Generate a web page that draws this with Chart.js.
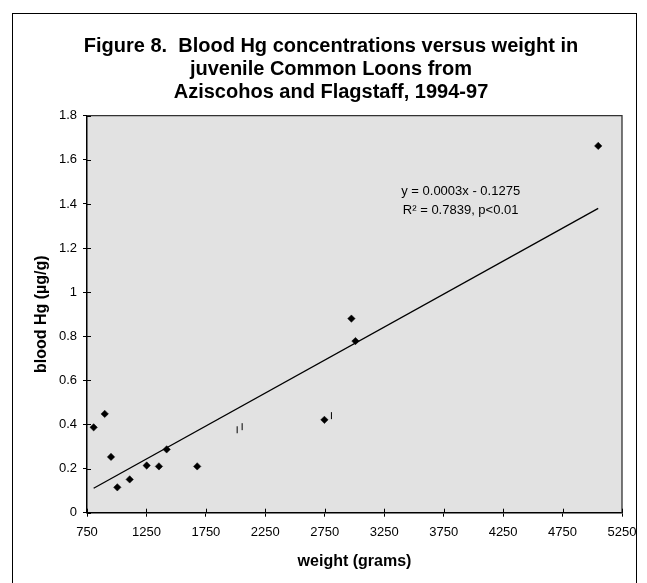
<!DOCTYPE html>
<html>
<head>
<meta charset="utf-8">
<script src="https://cdn.jsdelivr.net/npm/chart.js@4.4.1/dist/chart.umd.min.js"></script>
<style>
    html, body { margin: 0; padding: 0; background: #fff; overflow: hidden; }
    #frame { position: absolute; left: 12px; top: 13px; width: 625px; height: 620px; border: 1px solid #000; box-sizing: border-box; }
    #wrap { position: absolute; left: 0; top: 0; width: 647px; height: 583px; }
</style>
</head>
<body>
<div id="frame"></div>
<div id="wrap"><canvas id="chart"></canvas></div>
<script>
// ============================================================
// Figure 8 — Blood Hg vs weight, juvenile Common Loons
// ============================================================

// Points
const weights = [806, 899, 952, 1005, 1109, 1252, 1355, 1420, 1677, 2747, 2974, 3008, 5050];
const bloodHg = [0.387, 0.448, 0.253, 0.115, 0.151, 0.214, 0.210, 0.287, 0.210, 0.421, 0.880, 0.778, 1.663];

// Droite de tendance (extrémités)
const trendX = [806, 5050];
const trendY = [0.111, 1.38];

// Petits traits verticaux parasites du graphique d'origine
const markX = [2013, 2055, 2806];
const markY = [0.376, 0.390, 0.440];

// Axes
const xMin = 750, xMax = 5250, xStep = 500;
const yMin = 0, yMax = 1.8, yStep = 0.2;

const titleLines = [
    'Figure 8.  Blood Hg concentrations versus weight in',
    'juvenile Common Loons from',
    'Aziscohos and Flagstaff, 1994-97'
];
const equationLines = ['y = 0.0003x - 0.1275', 'R\u00B2 = 0.7839, p<0.01'];

const FONT = "'Liberation Sans', Arial, Helvetica, sans-serif";

function toPoints(xs, ys) {
    return xs.map(function (x, i) { return { x: x, y: ys[i] }; });
}

// Fond gris + cadre haut/droite + graduations qui traversent l'axe
const plotFrame = {
    id: 'plotFrame',
    afterLayout: function (chart) {
        // recentrer le titre comme sur l'original
        chart.titleBlock.left += 20;
        chart.titleBlock.right += 20;
    },
    beforeDraw: function (chart) {
        const a = chart.chartArea, ctx = chart.ctx;
        ctx.save();
        ctx.fillStyle = '#e2e2e2';
        ctx.fillRect(a.left, a.top, a.right - a.left, a.bottom - a.top);
        ctx.restore();
    },
    afterDraw: function (chart) {
        const a = chart.chartArea, ctx = chart.ctx;
        const xs = chart.scales.x, ys = chart.scales.y;
        ctx.save();
        ctx.strokeStyle = '#333';
        ctx.lineWidth = 1.3;
        ctx.beginPath();
        ctx.moveTo(a.left, a.top);
        ctx.lineTo(a.right, a.top);
        ctx.lineTo(a.right, a.bottom);
        ctx.stroke();
        ctx.strokeStyle = '#000';
        ctx.lineWidth = 1;
        ctx.beginPath();
        xs.ticks.forEach(function (t, i) {
            const px = Math.round(xs.getPixelForTick(i)) + 0.5;
            ctx.moveTo(px, a.bottom);
            ctx.lineTo(px, a.bottom - 4);
        });
        ys.ticks.forEach(function (t, i) {
            const py = Math.round(ys.getPixelForTick(i)) + 0.5;
            ctx.moveTo(a.left, py);
            ctx.lineTo(a.left + 4, py);
        });
        ctx.stroke();
        ctx.restore();
    }
};

// Équation de la droite
const equation = {
    id: 'equation',
    afterDatasetsDraw: function (chart, args, opts) {
        const ctx = chart.ctx;
        const px = chart.scales.x.getPixelForValue(opts.x);
        ctx.save();
        ctx.font = '13px ' + FONT;
        ctx.fillStyle = '#000';
        ctx.textAlign = 'center';
        ctx.textBaseline = 'middle';
        opts.lines.forEach(function (line, i) {
            ctx.fillText(line, px, chart.scales.y.getPixelForValue(opts.y[i]));
        });
        ctx.restore();
    }
};

new Chart(document.getElementById('chart').getContext('2d'), {
    type: 'scatter',
    data: {
        datasets: [
            {
                label: 'blood Hg',
                data: toPoints(weights, bloodHg),
                pointStyle: 'rectRot',
                pointRadius: 3.7,
                backgroundColor: '#000',
                borderColor: '#000',
                borderWidth: 0.5
            },
            {
                label: 'trend',
                data: toPoints(trendX, trendY),
                showLine: true,
                pointRadius: 0,
                borderColor: '#000',
                borderWidth: 1.3
            },
            {
                label: 'marks',
                data: toPoints(markX, markY),
                pointStyle: 'line',
                rotation: 90,
                pointRadius: 3.5,
                borderColor: '#000',
                borderWidth: 1
            }
        ]
    },
    options: {
        responsive: true,
        maintainAspectRatio: false,
        animation: false,
        layout: { padding: { left: 0, right: 25, top: 0, bottom: 0 } },
        plugins: {
            legend: { display: false },
            tooltip: { enabled: false },
            title: {
                display: true,
                text: titleLines,
                color: '#000',
                font: { family: FONT, size: 20, weight: 'bold', lineHeight: 1.15 },
                padding: { top: 35, bottom: 11.7 }
            },
            equation: { x: 3893, y: [1.458, 1.37], lines: equationLines }
        },
        scales: {
            x: {
                type: 'linear',
                min: xMin,
                max: xMax,
                afterFit: function (scale) { scale.height = 70.3; },
                ticks: {
                    stepSize: xStep,
                    color: '#000',
                    padding: 8,
                    maxRotation: 0,
                    font: { family: FONT, size: 13 },
                    callback: function (v) { return String(v); }
                },
                grid: { drawOnChartArea: false, tickLength: 4, color: '#000' },
                border: { color: '#000', width: 1.5 },
                title: {
                    display: true,
                    text: 'weight (grams)',
                    color: '#000',
                    font: { family: FONT, size: 16, weight: 'bold', lineHeight: 1.2 },
                    padding: { top: 0, bottom: 11.4 }
                }
            },
            y: {
                type: 'linear',
                min: yMin,
                max: yMax,
                afterFit: function (scale) { scale.width = 87; },
                ticks: {
                    stepSize: yStep,
                    color: '#000',
                    padding: 6,
                    font: { family: FONT, size: 13 },
                    callback: function (v) { return String(Math.round(v * 10) / 10); }
                },
                grid: { drawOnChartArea: false, tickLength: 4, color: '#000' },
                border: { color: '#000', width: 1.5 },
                title: {
                    display: true,
                    text: 'blood Hg (\u00B5g/g)',
                    color: '#000',
                    font: { family: FONT, size: 16, weight: 'bold', lineHeight: 1.2 },
                    padding: { top: 32, bottom: 0 }
                }
            }
        }
    },
    plugins: [plotFrame, equation]
});
</script>
</body>
</html>
